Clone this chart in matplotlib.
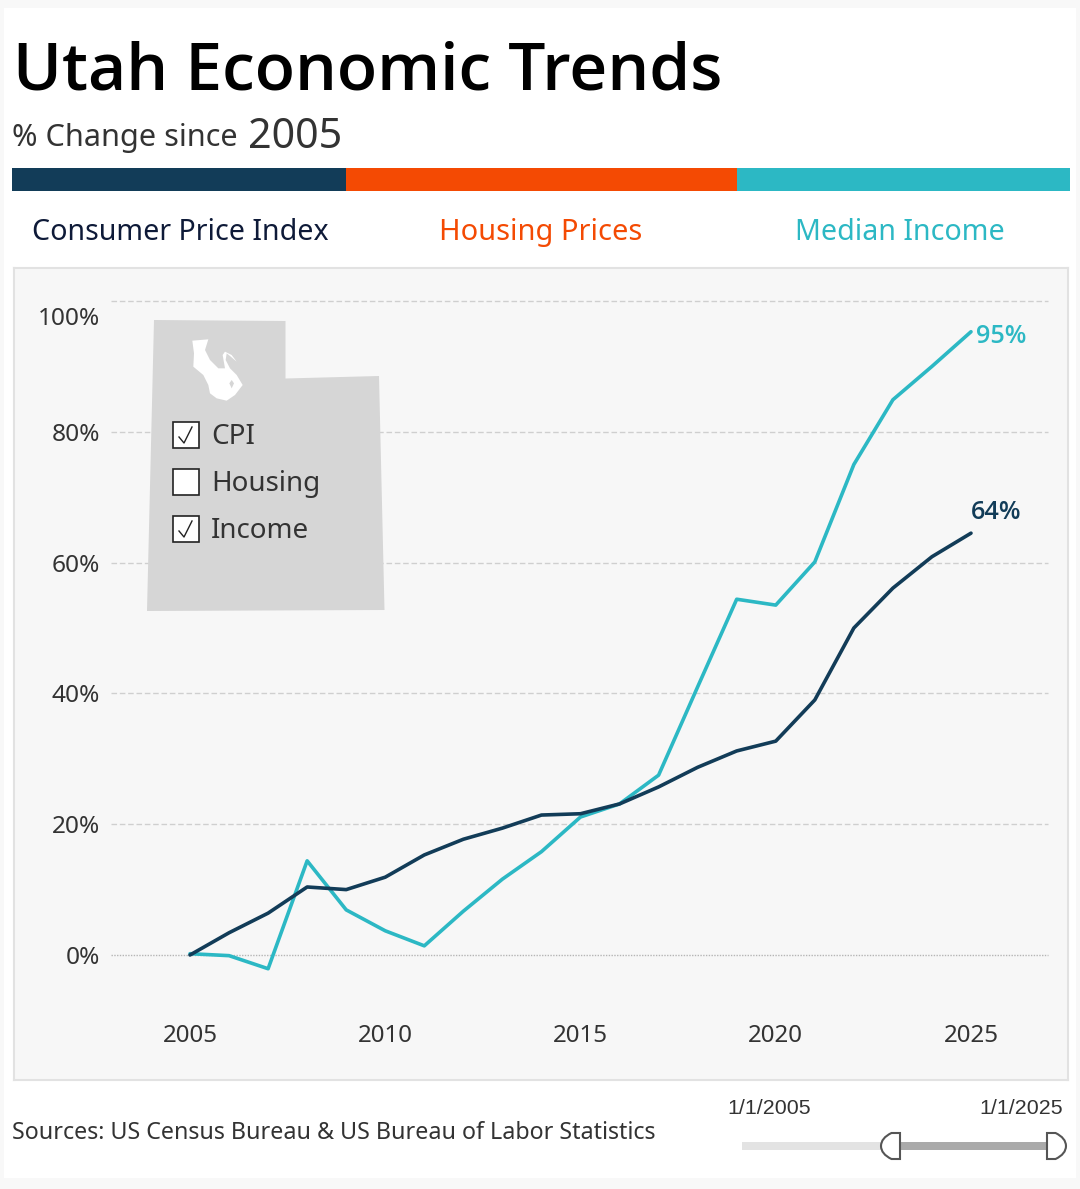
import matplotlib
matplotlib.use("Agg")
import matplotlib.pyplot as plt
from matplotlib.patches import Rectangle, Polygon, PathPatch
from matplotlib.path import Path
from matplotlib.transforms import ScaledTranslation

W, H = 1080, 1189
plt.rcParams['font.family'] = ['Noto Sans', 'DejaVu Sans']

years = list(range(2005, 2026))
cpi = [0, 3.4, 6.4, 10.4, 10.0, 11.9, 15.3, 17.7, 19.4, 21.4, 21.6, 23.1, 25.7, 28.7, 31.2, 32.7, 39.0, 50.0, 56.1, 60.9, 64.5]
income = [0.2, -0.1, -2.1, 14.4, 6.9, 3.7, 1.4, 6.7, 11.6, 15.8, 21.1, 23.1, 27.5, 41.0, 54.4, 53.5, 60.1, 75.0, 84.9, 90.0, 95.3]
ytick_vals = [0, 20, 40, 60, 80, 100]
ytick_labels = ['0%', '20%', '40%', '60%', '80%', '100%']
xtick_vals = [2005, 2010, 2015, 2020, 2025]
legend_items = ['CPI', 'Housing', 'Income']
legend_checked = [True, False, True]
header_names = ['Consumer Price Index', 'Housing Prices', 'Median Income']

NAVY, ORANGE, TEAL = '#123c58', '#f44a03', '#2cb8c4'
TXT = '#333333'

fig = plt.figure(figsize=(W/100, H/100), dpi=100, facecolor='#f8f8f8')
bg = fig.add_axes([0, 0, 1, 1], zorder=0)
bg.set_xlim(0, W); bg.set_ylim(H, 0); bg.axis('off')
bg.add_patch(Rectangle((4, 8), 1072, 1170, fc='white', ec='none'))
bg.text(13, 89, 'Utah Economic Trends', fontsize=47.5, family='Open Sans', fontweight=600, color='black', va='baseline')
bg.text(12, 146, '% Change since', fontsize=22.1, color=TXT, va='baseline')
bg.text(248, 148, '2005', fontsize=29.7, color=TXT, va='baseline')
for x0, x1, c in [(12, 345.5, NAVY), (345.5, 736.5, ORANGE), (736.5, 1070, TEAL)]:
    bg.add_patch(Rectangle((x0, 168), x1-x0, 23, fc=c, ec='none'))
for x, n, c, fs in zip([180, 541, 899.5], header_names, ['#0e1a38', ORANGE, TEAL], [20.6, 20.9, 20.6]):
    bg.text(x, 240, n, fontsize=fs, color=c, ha='center', va='baseline')
bg.text(12, 1139, 'Sources: US Census Bureau & US Bureau of Labor Statistics', fontsize=16.75, color=TXT, va='baseline')

# slider
bg.text(769, 1114, '1/1/2005', fontsize=15.4, family='Liberation Sans', color=TXT, ha='center', va='baseline')
bg.text(1021, 1114, '1/1/2025', fontsize=15.4, family='Liberation Sans', color=TXT, ha='center', va='baseline')
bg.add_patch(Rectangle((742, 1142), 145, 8, fc='#e3e3e3', ec='none'))
bg.add_patch(Rectangle((895, 1142), 156, 8, fc='#aaaaaa', ec='none'))
def handle(xflat, xround):
    d = xround - xflat
    verts = [(xflat, 1133), (xflat+d*0.45, 1133), (xround, 1138), (xround, 1146), (xround, 1154), (xflat+d*0.45, 1159), (xflat, 1159), (xflat, 1133)]
    codes = [Path.MOVETO, Path.LINETO, Path.CURVE3, Path.LINETO, Path.CURVE3, Path.LINETO, Path.LINETO, Path.CLOSEPOLY]
    bg.add_patch(PathPatch(Path(verts, codes), fc='white', ec='#555555', lw=1.5, zorder=4))
handle(900, 881)
handle(1047, 1066)

# plot panel
PX0, PX1, PY0, PY1 = 14, 1068, 268, 1080
ax = fig.add_axes([PX0/W, 1-PY1/H, (PX1-PX0)/W, (PY1-PY0)/H], zorder=1)
pxyr = 39.05; pxpct = 6.54
x_of = lambda px: 2005 + (px-190)/pxyr
y_of = lambda py: (955-py)/pxpct
ax.set_xlim(x_of(PX0), x_of(PX1))
ax.set_ylim(y_of(PY1), y_of(PY0))
ax.set_facecolor('#f7f7f7')
for s in ax.spines.values():
    s.set_color('#e2e2e2'); s.set_linewidth(1.5)
gx0, gx1 = x_of(111), x_of(1048)
for v in ytick_vals:
    if v == 0:
        ax.hlines(v, gx0, gx1, color='#b5b5b5', lw=1, ls=(0, (1, 1)), zorder=1)
    else:
        ax.hlines(v, gx0, gx1, color='#cfcfcf', lw=1, ls=(0, (4, 2)), zorder=1)
ax.set_yticks(ytick_vals, ytick_labels)
ax.set_xticks(xtick_vals, [str(y) for y in xtick_vals])
ax.tick_params(axis='y', length=0, pad=-62, labelsize=17.6, labelcolor=TXT)
ax.tick_params(axis='x', length=0, pad=-40.5, labelsize=17.4, labelcolor=TXT)
for t in ax.get_yticklabels():
    if t.get_text() == '100%':
        t.set_transform(t.get_transform() + ScaledTranslation(0, -15/100, fig.dpi_scale_trans))
ax.plot(years, income, color=TEAL, lw=2.6, solid_capstyle='round', solid_joinstyle='round', zorder=3)
ax.plot(years, cpi, color=NAVY, lw=2.6, solid_capstyle='round', solid_joinstyle='round', zorder=3)
ax.annotate(f'{round(income[-1]-0.3)}%', (years[-1], income[-1]), xytext=(5, -5), textcoords='offset pixels',
            color=TEAL, fontsize=18.2, family='Open Sans', fontweight=600, va='center', ha='left')
ax.annotate(f'{int(cpi[-1])}%', (years[-1], cpi[-1]), xytext=(0, 21), textcoords='offset pixels',
            color=NAVY, fontsize=18.2, family='Open Sans', fontweight=600, va='center', ha='left')

# Utah map and checkbox legend
ov = fig.add_axes([0, 0, 1, 1], zorder=2)
ov.set_xlim(0, W); ov.set_ylim(H, 0); ov.axis('off'); ov.patch.set_alpha(0)
ov.add_patch(Polygon([(154, 320), (285.5, 321), (285.5, 378.5), (379, 376), (384.5, 610), (147, 611)], fc='#d6d6d6', ec='none'))
zoomed = lambda pts: [(130 + a/3, 300 + b/3) for a, b in pts]
lake = [(187, 122), (235, 118), (225, 150), (240, 180), (265, 205), (285, 205), (278, 165), (285, 155), (305, 165), (320, 185),
        (300, 168), (290, 160), (287, 180), (300, 205), (320, 225), (338, 255), (315, 285), (290, 302), (260, 295), (240, 280),
        (235, 255), (220, 225), (190, 200), (192, 160)]
ov.add_patch(Polygon(zoomed(lake), fc='white', ec='none'))
ov.add_patch(Polygon(zoomed([(305, 240), (312, 250), (305, 265), (298, 250)]), fc='#d6d6d6', ec='none'))
for y, n, chk in zip([435, 482, 529], legend_items, legend_checked):
    ov.add_patch(Rectangle((173, y-13), 26, 26, fc='white', ec='#222222', lw=1.2))
    if chk:
        ov.plot([179, 184, 192], [y+2, y+8, y-8], color='#222222', lw=1)
    ov.text(211, y-1, n, fontsize=20, color=TXT, va='center_baseline')

fig.savefig('out.png', dpi=100, facecolor=fig.get_facecolor())
